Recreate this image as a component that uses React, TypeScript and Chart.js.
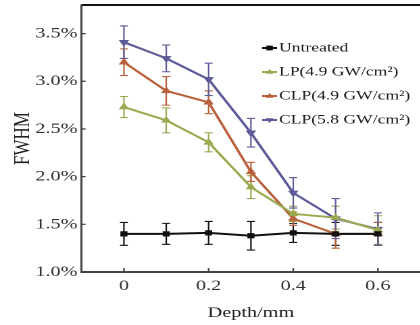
import { useEffect, useRef } from 'react';
import { Chart, registerables } from 'chart.js';

Chart.register(...registerables);

// ---- data ----
const depths = [0, 0.1, 0.2, 0.3, 0.4, 0.5, 0.6];
const seriesNames = ['Untreated', 'LP(4.9 GW/cm²)', 'CLP(4.9 GW/cm²)', 'CLP(5.8 GW/cm²)'];
const untreated = [1.40, 1.40, 1.41, 1.38, 1.41, 1.40, 1.40];
const untreatedErr = [0.12, 0.11, 0.12, 0.15, 0.10, 0.12, 0.12];
const lp = [2.73, 2.59, 2.36, 1.89, 1.61, 1.57, 1.44];
const lpErr = [0.11, 0.13, 0.10, 0.12, 0.08, 0.12, 0.15];
const clp49 = [3.20, 2.90, 2.78, 2.05, 1.56, 1.40, 1.40];
const clp49Err = [0.14, 0.15, 0.12, 0.10, 0.07, 0.15, 0.12];
const clp58 = [3.41, 3.24, 3.02, 2.46, 1.83, 1.56, 1.45];
const clp58Err = [0.17, 0.14, 0.17, 0.15, 0.16, 0.21, 0.17];
const xTicks = [0, 0.2, 0.4, 0.6];
const yTicks = [1.0, 1.5, 2.0, 2.5, 3.0, 3.5];
const xTitle = 'Depth/mm';
const yTitle = 'FWHM';

// ---- styling ----
const S = 1.35; // horizontal stretch of the original figure
const IW = 316;
const IH = 325;
const FONT = "'Liberation Serif', 'Times New Roman', serif";
const colors = ['#111111', '#9aab52', '#b9603d', '#5d5b98'];
const pointStyles = ['rect', 'triangle', 'triangle', 'triangle'];
const pointRotations = [0, 0, 0, 180];

const errorBarsPlugin = {
  id: 'errorBars',
  beforeDatasetsDraw(chart: any) {
    const { ctx, scales } = chart;
    const x = scales.x, y = scales.y;
    chart.data.datasets.forEach((ds: any) => {
      ctx.save();
      ctx.strokeStyle = ds.borderColor;
      ctx.lineWidth = 1.1;
      ds.data.forEach((p: any, j: number) => {
        const e = ds.errors[j];
        const px = x.getPixelForValue(p.x);
        const top = y.getPixelForValue(p.y + e);
        const bot = y.getPixelForValue(p.y - e);
        ctx.beginPath();
        ctx.moveTo(px, top); ctx.lineTo(px, bot);
        ctx.moveTo(px - 3, top); ctx.lineTo(px + 3, top);
        ctx.moveTo(px - 3, bot); ctx.lineTo(px + 3, bot);
        ctx.stroke();
      });
      ctx.restore();
    });
  },
};

const framePlugin = {
  id: 'frame',
  afterDraw(chart: any) {
    const { ctx, chartArea, scales } = chart;
    const x = scales.x, y = scales.y;
    ctx.save();
    ctx.strokeStyle = '#111';
    ctx.lineWidth = 2;
    ctx.beginPath();
    ctx.moveTo(chartArea.left, chartArea.top);
    ctx.lineTo(chartArea.right + 2, chartArea.top);
    ctx.stroke();
    ctx.strokeStyle = '#444';
    ctx.lineWidth = 1.2;
    ctx.beginPath();
    yTicks.forEach((v) => {
      const py = y.getPixelForValue(v);
      ctx.moveTo(chartArea.left, py);
      ctx.lineTo(chartArea.left + 3, py);
    });
    xTicks.forEach((v) => {
      const px = x.getPixelForValue(v);
      ctx.moveTo(px, chartArea.bottom);
      ctx.lineTo(px, chartArea.bottom - 4);
    });
    ctx.stroke();
    ctx.restore();
  },
};

const legendPlugin = {
  id: 'customLegend',
  afterDraw(chart: any) {
    const { ctx } = chart;
    const x0 = 194;
    const x1 = 205;
    const tx = 206.5;
    const y0 = 48;
    const dy = 24;
    ctx.save();
    ctx.font = `13px ${FONT}`;
    ctx.textBaseline = 'middle';
    ctx.textAlign = 'left';
    chart.data.datasets.forEach((ds: any, i: number) => {
      const yy = y0 + i * dy;
      ctx.strokeStyle = ds.borderColor;
      ctx.fillStyle = ds.borderColor;
      ctx.lineWidth = 2;
      ctx.beginPath();
      ctx.moveTo(x0, yy);
      ctx.lineTo(x1, yy);
      ctx.stroke();
      const cx = (x0 + x1) / 2;
      const r = 3;
      ctx.beginPath();
      if (ds.pointStyle === 'rect') {
        ctx.rect(cx - r * 0.8, yy - r * 0.8, r * 1.6, r * 1.6);
      } else if (ds.pointRotation === 180) {
        ctx.moveTo(cx - r, yy - r * 0.6);
        ctx.lineTo(cx + r, yy - r * 0.6);
        ctx.lineTo(cx, yy + r);
        ctx.closePath();
      } else {
        ctx.moveTo(cx - r, yy + r * 0.6);
        ctx.lineTo(cx + r, yy + r * 0.6);
        ctx.lineTo(cx, yy - r);
        ctx.closePath();
      }
      ctx.fill();
      ctx.fillStyle = '#1a1a1a';
      ctx.fillText(ds.label, tx, yy);
    });
    ctx.restore();
  },
};

export default function App() {
  const ref = useRef<HTMLCanvasElement | null>(null);

  useEffect(() => {
    if (!ref.current) return;
    const values = [untreated, lp, clp49, clp58];
    const errs = [untreatedErr, lpErr, clp49Err, clp58Err];
    const datasets = values.map((vals, i) => ({
      label: seriesNames[i],
      data: vals.map((v, j) => ({ x: depths[j], y: v })),
      errors: errs[i],
      borderColor: colors[i],
      backgroundColor: colors[i],
      borderWidth: 2,
      pointStyle: pointStyles[i],
      pointRotation: pointRotations[i],
      pointRadius: i === 0 ? 3 : 3.5,
      pointBorderWidth: 1,
      tension: 0,
    }));

    const chart = new Chart(ref.current, {
      type: 'line',
      data: { datasets } as any,
      options: {
        responsive: false,
        animation: false,
        devicePixelRatio: 2,
        layout: { padding: { top: 5, right: IW - 424 / S, left: 0, bottom: 0 } },
        plugins: { legend: { display: false }, tooltip: { enabled: false } },
        scales: {
          x: {
            type: 'linear',
            min: -0.1,
            max: 0.7,
            afterBuildTicks: (scale: any) => {
              scale.ticks = xTicks.map((v) => ({ value: v }));
            },
            afterFit: (scale: any) => {
              scale.height = IH - 272;
              scale.paddingLeft = 0;
              scale.paddingRight = 0;
            },
            grid: { display: false, drawTicks: false },
            border: { display: true, color: '#444', width: 2 },
            ticks: {
              padding: 5,
              color: '#333',
              font: { family: FONT, size: 15 },
              callback: (v: any) => String(v),
            },
            title: {
              display: true,
              text: xTitle,
              color: '#222',
              font: { family: FONT, size: 15 },
              padding: { top: 0, bottom: 3 },
            },
          },
          y: {
            type: 'linear',
            min: 1.0,
            max: 3.8,
            afterBuildTicks: (scale: any) => {
              scale.ticks = yTicks.map((v) => ({ value: v }));
            },
            afterFit: (scale: any) => {
              scale.width = 81.5 / S;
              scale.paddingTop = 0;
              scale.paddingBottom = 0;
            },
            grid: { display: false, drawTicks: false },
            border: { display: true, color: '#444', width: 1.5 },
            ticks: {
              padding: 3,
              color: '#333',
              font: { family: FONT, size: 15 },
              callback: (v: any) => Number(v).toFixed(1) + '%',
            },
            title: {
              display: true,
              text: yTitle,
              color: '#222',
              font: { family: FONT, size: 17 },
              padding: { top: 7, bottom: 0 },
            },
          },
        },
      },
      plugins: [errorBarsPlugin, framePlugin, legendPlugin],
    });
    return () => chart.destroy();
  }, []);

  return (
    <div style={{ position: 'fixed', left: 0, top: 0, width: 420, height: 325, overflow: 'hidden', background: '#fff' }}>
      <canvas
        ref={ref}
        width={IW}
        height={IH}
        style={{ width: `${IW * S}px`, height: `${IH}px`, display: 'block' }}
      />
    </div>
  );
}
